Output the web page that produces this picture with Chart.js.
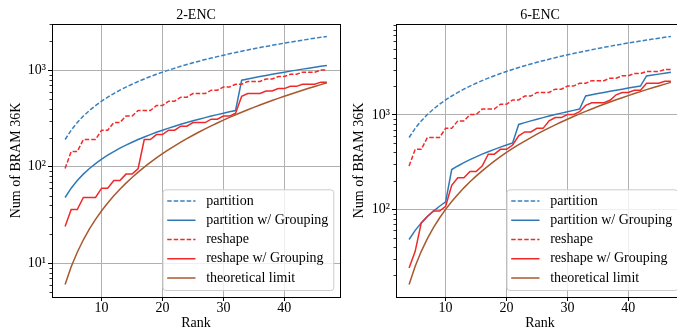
<!DOCTYPE html>
<html><head><meta charset="utf-8">
<script src="https://cdn.jsdelivr.net/npm/chart.js@4.4.0/dist/chart.umd.min.js"></script>
<style>
html,body{margin:0;padding:0;background:#fff;overflow:hidden;width:677px;height:330px;position:relative;}
#c1{position:absolute;left:0;top:0;}
#c2{position:absolute;left:348px;top:0;}
</style></head><body>
<canvas id="c1" width="348" height="330"></canvas>
<canvas id="c2" width="344" height="330"></canvas>
<script>
const ranks = [4,5,6,7,8,9,10,11,12,13,14,15,16,17,18,19,20,21,22,23,24,25,26,27,28,29,30,31,32,33,34,35,36,37,38,39,40,41,42,43,44,45,46,47];
const xTicks = [10,20,30,40];
const yMajorTicks = [1,10,100,1000,10000];
const seriesNames = ['partition','partition w/ Grouping','reshape','reshape w/ Grouping','theoretical limit'];
const titles = ['2-ENC','6-ENC'];
const xLabel = 'Rank';
const yLabel = 'Num of BRAM 36K';

// 2-ENC
const enc2Partition = [192,240,288,336,384,432,480,528,576,624,672,720,768,816,864,912,960,1008,1056,1104,1152,1200,1248,1296,1344,1392,1440,1488,1536,1584,1632,1680,1728,1776,1824,1872,1920,1968,2016,2064,2112,2160,2208,2256];
const enc2PartitionGrouping = [48,60,72,84,96,108,120,132,144,156,168,180,192,204,216,228,240,252,264,276,288,300,312,324,336,348,360,372,384,792,816,840,864,888,912,936,960,984,1008,1032,1056,1080,1104,1128];
const enc2Reshape = [96,144,144,192,192,192,240,240,288,288,336,336,384,384,384,432,432,480,480,528,528,576,576,576,624,624,672,672,720,720,768,768,768,816,816,864,864,912,912,960,960,960,1008,1008];
const enc2ReshapeGrouping = [24,36,36,48,48,48,60,60,72,72,84,84,96,192,192,216,216,240,240,264,264,288,288,288,312,312,336,336,360,540,576,576,576,612,612,648,648,684,684,720,720,720,756,756];
const enc2Theory = [6.0,9.2,13.0,17.5,22.7,28.5,35.0,42.2,50.0,58.5,67.7,77.5,88.0,99.2,111.0,123.5,136.7,150.5,165.0,180.2,196.0,212.5,229.7,247.5,266.0,285.2,305.0,325.5,346.7,368.5,391.0,414.2,438.0,462.5,487.7,513.5,540.0,567.2,595.0,623.5,652.7,682.5,713.0,744.2];

// 6-ENC
const enc6Partition = [576,720,864,1008,1152,1296,1440,1584,1728,1872,2016,2160,2304,2448,2592,2736,2880,3024,3168,3312,3456,3600,3744,3888,4032,4176,4320,4464,4608,4752,4896,5040,5184,5328,5472,5616,5760,5904,6048,6192,6336,6480,6624,6768];
const enc6PartitionGrouping = [48,60,72,84,96,108,120,264,288,312,336,360,384,408,432,456,480,504,792,828,864,900,936,972,1008,1044,1080,1116,1152,1584,1632,1680,1728,1776,1824,1872,1920,1968,2016,2580,2640,2700,2760,2820];
const enc6Reshape = [288,432,432,576,576,576,720,720,864,864,1008,1008,1152,1152,1152,1296,1296,1440,1440,1584,1584,1728,1728,1728,1872,1872,2016,2016,2160,2160,2304,2304,2304,2448,2448,2592,2592,2736,2736,2880,2880,2880,3024,3024];
const enc6ReshapeGrouping = [24,36,72,84,96,96,108,180,216,216,252,252,288,384,384,432,432,480,600,660,660,720,720,864,936,936,1008,1008,1080,1260,1344,1344,1344,1428,1632,1728,1728,1824,1824,2160,2160,2160,2268,2268];
const enc6Theory = [16,25,36,49,64,81,100,121,144,169,196,225,256,289,324,361,400,441,484,529,576,625,676,729,784,841,900,961,1024,1089,1156,1225,1296,1369,1444,1521,1600,1681,1764,1849,1936,2025,2116,2209];

const FONT = 'Liberation Serif';
const FS = 14;
Chart.defaults.font.family = FONT;
Chart.defaults.font.size = FS;
Chart.defaults.color = '#000';

const styles = [
  {color:'#3a80c0', dash:[4.5,2]},
  {color:'#2f78b8', dash:[]},
  {color:'#f22a2a', dash:[4.5,2]},
  {color:'#f02828', dash:[]},
  {color:'#a8582c', dash:[]}
];
const sup = {0:'\u2070',1:'\u00B9',2:'\u00B2',3:'\u00B3',4:'\u2074'};

const legendPlugin = {
  id:'boxLegend',
  afterDraw(chart){
    const ctx = chart.ctx, ca = chart.chartArea;
    ctx.save();
    ctx.font = FS + 'px "' + FONT + '"';
    const labels = chart.data.datasets.map(d=>d.label);
    const maxW = Math.max(...labels.map(l=>ctx.measureText(l).width));
    const w = 43.7 + maxW + 5, h = 100.7;
    const right = ca.right - 6.7, bottom = ca.bottom - 7;
    const left = right - w, top = bottom - h;
    ctx.beginPath();
    ctx.roundRect(left+0.5, top+0.5, w, h, 3);
    ctx.fillStyle = 'rgba(255,255,255,0.8)';
    ctx.fill();
    ctx.strokeStyle = '#cccccc';
    ctx.lineWidth = 1;
    ctx.stroke();
    chart.data.datasets.forEach((d,i)=>{
      const y = top + 11.7 + i*19.25;
      ctx.beginPath();
      ctx.setLineDash(d.borderDash||[]);
      ctx.strokeStyle = d.borderColor;
      ctx.lineWidth = d.borderWidth;
      ctx.moveTo(left+4.7, y);
      ctx.lineTo(left+33, y);
      ctx.stroke();
      ctx.setLineDash([]);
      ctx.fillStyle = '#000';
      ctx.textBaseline = 'middle';
      ctx.textAlign = 'left';
      ctx.fillText(d.label, left+43.7, y);
    });
    ctx.restore();
  }
};

const minorTickPlugin = {
  id:'minorTicks',
  afterDraw(chart){
    const s = chart.scales.y, ctx = chart.ctx, ca = chart.chartArea;
    ctx.save();
    ctx.strokeStyle = '#000';
    ctx.lineWidth = 0.8;
    for (let n=0; n<5; n++){
      for (let d=2; d<=9; d++){
        const v = d*Math.pow(10,n);
        if (v < s.min || v > s.max) continue;
        const y = Math.round(s.getPixelForValue(v)) + 0.5;
        ctx.beginPath();
        ctx.moveTo(ca.left - 2.5, y);
        ctx.lineTo(ca.left, y);
        ctx.stroke();
      }
    }
    ctx.restore();
  }
};

function makeChart(id, title, seriesList, yMin, yMax, yTitlePad){
  const datasets = seriesList.map((arr,i)=>({
    label: seriesNames[i],
    data: ranks.map((r,j)=>({x:r, y:arr[j]})),
    borderColor: styles[i].color,
    backgroundColor: styles[i].color,
    borderDash: styles[i].dash,
    borderWidth: 1.5,
    pointRadius: 0,
    tension: 0,
    fill: false,
    order: 4 - i
  }));
  return new Chart(document.getElementById(id), {
    type:'line',
    data:{datasets},
    options:{
      responsive:false,
      animation:false,
      events:[],
      layout:{padding:0},
      plugins:{legend:{display:false}, tooltip:{enabled:false}, title:{display:false}},
      scales:{
        x:{
          type:'linear', position:'bottom', min:1.85, max:49.15,
          afterBuildTicks:(s)=>{ s.ticks = xTicks.map(v=>({value:v})); },
          afterFit:(s)=>{ s.height = 33; },
          ticks:{padding:0, color:'#000', font:{size:FS, lineHeight:1.0}, maxRotation:0},
          grid:{color:'#b0b0b0', lineWidth:1, tickLength:4, tickColor:'#000', tickWidth:1},
          border:{display:true, color:'#000', width:1},
          title:{display:true, text:xLabel, color:'#000', font:{size:FS, lineHeight:1.0}, padding:{top:0,bottom:0}}
        },
        x2:{
          type:'linear', position:'top', min:1.85, max:49.15,
          afterFit:(s)=>{ s.height = 24; },
          ticks:{display:false},
          grid:{display:false},
          border:{display:true, color:'#000', width:1},
          title:{display:true, text:title, color:'#000', font:{size:FS, lineHeight:1.0}, padding:{top:8.5,bottom:0}}
        },
        y:{
          type:'logarithmic', position:'left', min:yMin, max:yMax,
          afterBuildTicks:(s)=>{ s.ticks = yMajorTicks.filter(v=>v>=s.min && v<=s.max).map(v=>({value:v})); },
          afterFit:(s)=>{ s.width = yTitlePad.w; },
          ticks:{padding:2, color:'#000', font:{size:FS, lineHeight:1.0},
            callback:(v)=>{ const e=Math.round(Math.log10(v)); return '10'+sup[e]; }},
          grid:{color:'#b0b0b0', lineWidth:1, tickLength:4, tickColor:'#000', tickWidth:1},
          border:{display:true, color:'#000', width:1},
          title:{display:true, text:yLabel, color:'#000', font:{size:FS, lineHeight:1.0}, padding:{top:yTitlePad.p,bottom:0}}
        },
        y2:{
          type:'linear', position:'right', min:0, max:1,
          afterFit:(s)=>{ s.width = 8; },
          ticks:{display:false},
          grid:{display:false},
          border:{display:true, color:'#000', width:1}
        }
      }
    },
    plugins:[minorTickPlugin, legendPlugin]
  });
}

makeChart('c1', titles[0], [enc2Partition, enc2PartitionGrouping, enc2Reshape, enc2ReshapeGrouping, enc2Theory], 4.457, 3034, {w:52, p:9.2});
makeChart('c2', titles[1], [enc6Partition, enc6PartitionGrouping, enc6Reshape, enc6ReshapeGrouping, enc6Theory], 11.83, 9156, {w:48, p:4.5});
</script>
</body></html>
